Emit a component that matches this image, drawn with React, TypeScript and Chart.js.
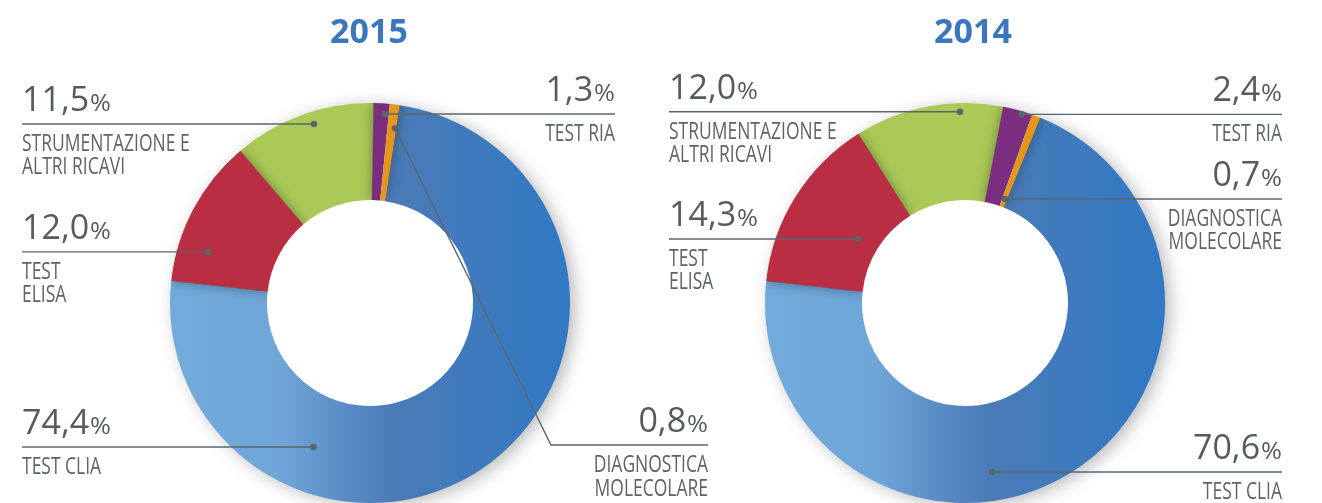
import React, { useEffect, useRef } from 'react';
import { Chart, registerables } from 'chart.js';
Chart.register(...registerables);

// ---------------- data ----------------
const YEARS = ['2015', '2014'];
const CATEGORIES = ['TEST RIA', 'DIAGNOSTICA MOLECOLARE', 'TEST CLIA', 'TEST ELISA', 'STRUMENTAZIONE E ALTRI RICAVI'];
const CATEGORY_LINES = [['TEST RIA'], ['DIAGNOSTICA', 'MOLECOLARE'], ['TEST CLIA'], ['TEST', 'ELISA'], ['STRUMENTAZIONE E', 'ALTRI RICAVI']];
const VALUES_2015 = [1.3, 0.8, 74.4, 12.0, 11.5];
const VALUES_2014 = [2.4, 0.7, 70.6, 14.3, 12.0];
const SERIES = [VALUES_2015, VALUES_2014];

// ---------------- styles / layout ----------------
const W = 1322;
const H = 503;
const COLORS = ['#7b2d7f', '#e5961c', '#4a7fbf', '#b92e43', '#abc957'];
const BLUE_INDEX = 2;
const TITLE_COLOR = '#3a77bc';
const NUM_COLOR = '#545c61';
const TEXT_COLOR = '#5c6469';
const LINE_COLOR = '#5d6569';
const FONT = '"Open Sans", "DejaVu Sans", sans-serif';
const TEXT_SCALE_X = 0.76;

type LabelLayout = { side: 'left' | 'right'; x: number; t: number; f: number; elbow?: [number, number] };
type ChartLayout = { padding: { left: number; right: number; top: number; bottom: number }; rotation: number; titleX: number; labels: LabelLayout[] };

const LAYOUTS: ChartLayout[] = [
  {
    padding: { left: 170, right: W - 570, top: 103, bottom: 0 },
    rotation: 1,
    titleX: 369,
    labels: [
      { side: 'right', x: 615, t: 0.756, f: 0.893 },
      { side: 'right', x: 708, t: 0.854, f: 0.758, elbow: [551, 445] },
      { side: 'left', x: 22, t: 0.72, f: 0.533 },
      { side: 'left', x: 22, t: 0.257, f: 0.689 },
      { side: 'left', x: 22, t: 0.556, f: 0.872 },
    ],
  },
  {
    padding: { left: 765, right: W - 1165, top: 103, bottom: 0 },
    rotation: 11,
    titleX: 973,
    labels: [
      { side: 'right', x: 1282, t: 0.662, f: 0.969 },
      { side: 'right', x: 1282, t: 0.556, f: 0.087 },
      { side: 'right', x: 1282, t: 0.585, f: 0.703 },
      { side: 'left', x: 669, t: 0.477, f: 0.224 },
      { side: 'left', x: 669, t: 0.711, f: 0.91 },
    ],
  },
];

// shadow pairs: [source slice, target slice]
const SHADOW_PAIRS: [number, number][] = [[3, 2], [3, 4], [1, 2], [0, 4]];

function blueGradient(chart: any) {
  const area = chart.chartArea;
  if (!area) return COLORS[BLUE_INDEX];
  const g = chart.ctx.createLinearGradient(area.left, 0, area.right, 0);
  g.addColorStop(0, '#72aadb');
  g.addColorStop(0.28, '#6fa6d8');
  g.addColorStop(0.46, '#5788c2');
  g.addColorStop(0.56, '#4a7bb6');
  g.addColorStop(0.76, '#3f7abd');
  g.addColorStop(1, '#3079c3');
  return g;
}

function arcPath(ctx: CanvasRenderingContext2D, a: any) {
  ctx.beginPath();
  ctx.arc(a.x, a.y, a.outerRadius, a.startAngle, a.endAngle);
  ctx.arc(a.x, a.y, a.innerRadius, a.endAngle, a.startAngle, true);
  ctx.closePath();
}

function arcProps(el: any) {
  return el.getProps(['x', 'y', 'startAngle', 'endAngle', 'innerRadius', 'outerRadius'], true);
}

function fmt(v: number) {
  return v.toFixed(1).replace('.', ',');
}

function drawPercent(ctx: CanvasRenderingContext2D, value: number, x: number, baseline: number, side: 'left' | 'right') {
  const num = fmt(value);
  ctx.save();
  ctx.fillStyle = NUM_COLOR;
  ctx.textBaseline = 'alphabetic';
  ctx.textAlign = 'left';
  ctx.font = `400 34px ${FONT}`;
  const nw = ctx.measureText(num).width;
  ctx.font = `400 23px ${FONT}`;
  const pScale = 1.1;
  const pw = ctx.measureText('%').width * pScale;
  const gap = 1;
  const x0 = side === 'left' ? x : x - (nw + gap + pw);
  ctx.font = `400 34px ${FONT}`;
  ctx.fillText(num, x0, baseline);
  ctx.font = `400 23px ${FONT}`;
  ctx.translate(x0 + nw + gap, baseline);
  ctx.scale(pScale, 1);
  ctx.fillText('%', 0, 0);
  ctx.restore();
}

function drawCondensed(ctx: CanvasRenderingContext2D, text: string, x: number, baseline: number, side: 'left' | 'right') {
  ctx.save();
  ctx.fillStyle = TEXT_COLOR;
  ctx.font = `400 23px ${FONT}`;
  ctx.textAlign = side === 'left' ? 'left' : 'right';
  ctx.textBaseline = 'alphabetic';
  ctx.translate(x, baseline);
  ctx.scale(TEXT_SCALE_X, 1);
  ctx.fillText(text, 0, 0);
  ctx.restore();
}

function makeChart(canvas: HTMLCanvasElement, idx: number) {
  const layout = LAYOUTS[idx];
  const values = SERIES[idx];

  const ringShadow = {
    id: 'ringShadow',
    beforeDatasetsDraw(chart: any) {
      const el = chart.getDatasetMeta(0).data[0];
      if (!el) return;
      const a = arcProps(el);
      const ctx = chart.ctx as CanvasRenderingContext2D;
      ctx.save();
      ctx.shadowColor = 'rgba(0,0,0,0.30)';
      ctx.shadowBlur = 18;
      ctx.shadowOffsetX = 5;
      ctx.shadowOffsetY = 3;
      ctx.fillStyle = '#ffffff';
      ctx.beginPath();
      ctx.arc(a.x, a.y, a.outerRadius - 1, 0, Math.PI * 2);
      ctx.fill();
      ctx.restore();
    },
    afterDatasetsDraw(chart: any) {
      const data = chart.getDatasetMeta(0).data;
      const ctx = chart.ctx as CanvasRenderingContext2D;
      SHADOW_PAIRS.forEach(([s, t]) => {
        const src = arcProps(data[s]);
        const tgt = arcProps(data[t]);
        ctx.save();
        arcPath(ctx, tgt);
        ctx.clip();
        ctx.shadowColor = 'rgba(0,0,0,0.38)';
        ctx.shadowBlur = 12;
        ctx.fillStyle = '#000';
        arcPath(ctx, src);
        ctx.fill();
        ctx.restore();
      });
    },
  };

  const labelsPlugin = {
    id: 'pieLabels',
    afterDraw(chart: any) {
      const ctx = chart.ctx as CanvasRenderingContext2D;
      // title
      ctx.save();
      ctx.fillStyle = TITLE_COLOR;
      ctx.font = `bold 34px ${FONT}`;
      ctx.textAlign = 'center';
      ctx.textBaseline = 'alphabetic';
      ctx.fillText(YEARS[idx], layout.titleX, 43);
      ctx.restore();

      const data = chart.getDatasetMeta(0).data;
      layout.labels.forEach((lab, i) => {
        const a = arcProps(data[i]);
        const th = a.startAngle + lab.t * (a.endAngle - a.startAngle);
        const r = a.innerRadius + lab.f * (a.outerRadius - a.innerRadius);
        const dx = a.x + r * Math.cos(th);
        const dy = a.y + r * Math.sin(th);
        const lineY = lab.elbow ? lab.elbow[1] : dy;

        ctx.save();
        ctx.strokeStyle = LINE_COLOR;
        ctx.lineWidth = 1.4;
        ctx.beginPath();
        ctx.moveTo(dx, dy);
        if (lab.elbow) ctx.lineTo(lab.elbow[0], lab.elbow[1]);
        ctx.lineTo(lab.x, lineY);
        ctx.stroke();
        ctx.fillStyle = LINE_COLOR;
        ctx.beginPath();
        ctx.arc(dx, dy, 3.3, 0, Math.PI * 2);
        ctx.fill();
        ctx.restore();

        drawPercent(ctx, values[i], lab.x, lineY - 13, lab.side);
        CATEGORY_LINES[i].forEach((line, k) => {
          drawCondensed(ctx, line, lab.x, lineY + 27 + k * 23.5, lab.side);
        });
      });
    },
  };

  return new Chart(canvas, {
    type: 'doughnut',
    data: {
      labels: CATEGORIES,
      datasets: [
        {
          data: values,
          backgroundColor: (c: any) => (c.dataIndex === BLUE_INDEX ? blueGradient(c.chart) : COLORS[c.dataIndex]),
          borderWidth: 0,
          hoverOffset: 0,
        },
      ],
    },
    options: {
      responsive: false,
      animation: false,
      devicePixelRatio: 1,
      rotation: layout.rotation,
      cutout: '51.5%',
      events: [],
      layout: { padding: layout.padding },
      plugins: {
        legend: { display: false },
        tooltip: { enabled: false },
        title: { display: false },
      },
    } as any,
    plugins: [ringShadow, labelsPlugin],
  });
}

export default function App() {
  const ref1 = useRef<HTMLCanvasElement>(null);
  const ref2 = useRef<HTMLCanvasElement>(null);
  useEffect(() => {
    const charts = [ref1.current, ref2.current].map((c, i) => makeChart(c as HTMLCanvasElement, i));
    return () => charts.forEach((c) => c.destroy());
  }, []);
  const cs: React.CSSProperties = { position: 'absolute', left: 0, top: 0, width: W, height: H };
  return (
    <div style={{ position: 'absolute', left: 0, top: 0, width: W, height: H, overflow: 'hidden', background: '#ffffff' }}>
      <canvas ref={ref1} width={W} height={H} style={cs} />
      <canvas ref={ref2} width={W} height={H} style={cs} />
    </div>
  );
}
